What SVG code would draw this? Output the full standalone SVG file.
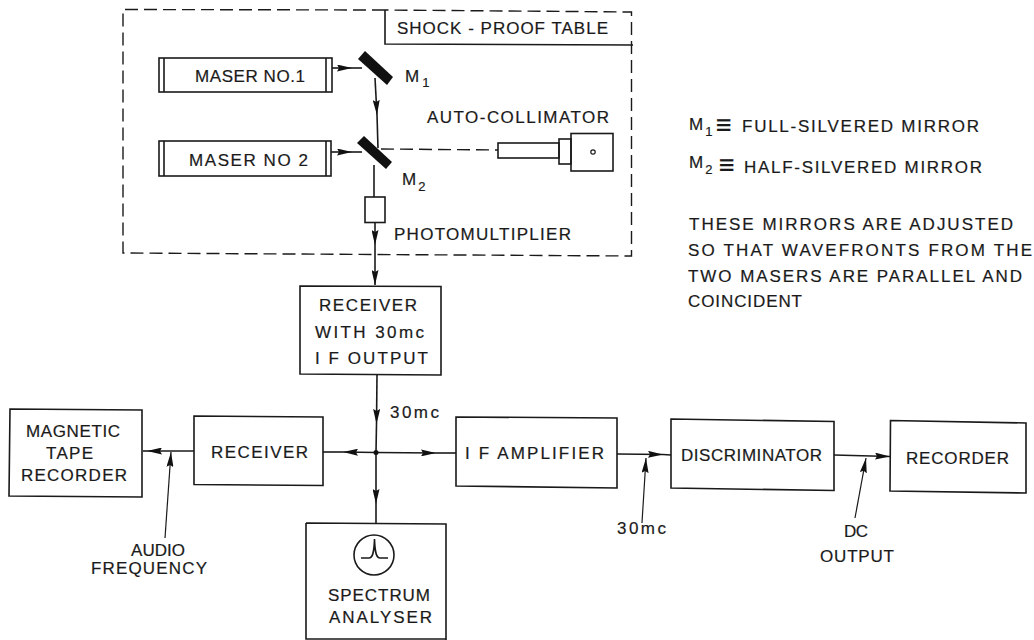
<svg xmlns="http://www.w3.org/2000/svg" width="1034" height="640" viewBox="0 0 1034 640">
<style>
.b{fill:none;stroke:#1a1a1a;stroke-width:1.6}
.c{fill:none;stroke:#1a1a1a;stroke-width:1.6}
.d{fill:none;stroke:#1a1a1a;stroke-width:1.4;stroke-dasharray:13 6}
.l{fill:none;stroke:#1a1a1a;stroke-width:1.2}
.m{fill:#111;stroke:none}
text{font-family:"Liberation Sans",Arial,sans-serif;font-size:17px;fill:#1a1a1a;stroke:#1a1a1a;stroke-width:.2}
.s{font-size:13px}
.e{font-size:27px}
</style>
<defs>
<marker id="a" markerUnits="userSpaceOnUse" viewBox="0 0 15 7" refX="15" refY="3.500" markerWidth="15" markerHeight="7" orient="auto"><path d="M0 0L15 3.500L0 7L2 3.500Z" fill="#111"/></marker>
</defs>
<rect width="1034" height="640" fill="#fff"/>
<g id="connectors">
<path class="c" d="M332 68H352" marker-end="url(#a)"/><path class="c" d="M352 68H362"/>
<path class="c" d="M375 78L377 115" marker-end="url(#a)"/><path class="c" d="M377 115L378 148"/>
<path class="c" d="M331 152H352" marker-end="url(#a)"/><path class="c" d="M352 152H362"/>
<path class="c" d="M374 165V197"/>
<path class="d" d="M381 149L498 150"/>
<path class="c" d="M375 222V245" marker-end="url(#a)"/><path class="c" d="M375 245V253"/><path class="c" d="M375 253V285" marker-end="url(#a)"/>
<path class="c" d="M377 375L376.500 424" marker-end="url(#a)"/><path class="c" d="M376.500 424L376 452"/>
<path class="c" d="M376 452V504" marker-end="url(#a)"/><path class="c" d="M376 504V523"/>
<path class="c" d="M376 452.500L343 452" marker-end="url(#a)"/><path class="c" d="M343 452H323"/>
<path class="c" d="M376 452.500L436 453" marker-end="url(#a)"/><path class="c" d="M436 453H456"/>
<path class="c" d="M194 451L147 451" marker-end="url(#a)"/><path class="c" d="M147 451H143"/>
<path class="l" d="M165 538L171 452" marker-end="url(#a)"/>
<path class="c" d="M617 454L663 454.500" marker-end="url(#a)"/><path class="c" d="M663 454.500L671 455"/>
<path class="l" d="M642 523L646 458" marker-end="url(#a)"/>
<path class="c" d="M834 455L890 456.500" marker-end="url(#a)"/>
<path class="l" d="M855 518L866 458" marker-end="url(#a)"/>
<circle class="m" cx="376" cy="452.500" r="2.500"/>
</g>
<g id="table">
<path class="d" d="M385 10L123 9.500V253L631.500 256V12L385 10"/>
<path class="b" d="M385 10V44L633 45"/>
<text x="397" y="34" textLength="211">SHOCK - PROOF TABLE</text>
</g>
<g id="maser1">
<rect class="b" x="159" y="58" width="173" height="34"/>
<path class="b" d="M164 58V92M326 58V92"/>
<text x="195" y="82" textLength="110">MASER NO.1</text>
</g>
<g id="maser2">
<rect class="b" x="159" y="141" width="172" height="35"/>
<path class="b" d="M164 141V176M326 141V176"/>
<text x="189" y="166" textLength="119">MASER NO 2</text>
</g>
<g id="m1">
<polygon class="m" points="365,51 393,77 387,85 358,59"/>
<text x="405" y="82">M<tspan class="s" dx="3" dy="5">1</tspan></text>
</g>
<g id="m2">
<polygon class="m" points="364,136 392,162 386,169 357,143"/>
<text x="402" y="185">M<tspan class="s" dx="2" dy="6">2</tspan></text>
</g>
<g id="autocollimator">
<rect class="b" x="498" y="143" width="61" height="15"/>
<rect class="b" x="559" y="139" width="12" height="25"/>
<rect class="b" x="571" y="133.500" width="42" height="37.500"/>
<circle class="l" cx="593" cy="152" r="2.200"/>
<text x="427" y="123" textLength="182">AUTO-COLLIMATOR</text>
</g>
<g id="photomultiplier">
<rect class="b" x="365" y="197" width="20" height="25.500"/>
<text x="394" y="240" textLength="177">PHOTOMULTIPLIER</text>
</g>
<g id="receiver-if">
<path class="b" d="M300 286L441 286.500V375L300 374Z"/>
<text x="319" y="311" textLength="98">RECEIVER</text>
<text x="315" y="338" textLength="109">WITH 30mc</text>
<text x="315" y="364" textLength="113">I F OUTPUT</text>
</g>
<g id="label-30mc-a"><text x="390" y="418" textLength="49">30mc</text></g>
<g id="magnetic">
<path class="b" d="M10 409L142 410V497L9 496Z"/>
<text x="26" y="437" textLength="94">MAGNETIC</text>
<text x="46" y="459" textLength="47">TAPE</text>
<text x="21" y="481" textLength="106">RECORDER</text>
</g>
<g id="receiver">
<path class="b" d="M194 416L323 417V485.500L194 484.500Z"/>
<text x="211" y="458" textLength="97">RECEIVER</text>
</g>
<g id="if-amp">
<path class="b" d="M456 417L617 418V488L456 486Z"/>
<text x="465" y="459" textLength="139">I F AMPLIFIER</text>
</g>
<g id="discriminator">
<path class="b" d="M671 419L834 421.500V490.500L671 488Z"/>
<text x="681" y="461" textLength="141">DISCRIMINATOR</text>
</g>
<g id="recorder">
<path class="b" d="M890.500 420.500L1026 423V493L890 491Z"/>
<text x="906" y="464" textLength="103">RECORDER</text>
</g>
<g id="spectrum">
<path class="b" d="M306 523L446 524V640M306 523V639H446"/>
<circle class="b" cx="374" cy="555" r="20"/>
<path class="c" d="M361 558H369C372 558 374 555 374.500 539C375 555 377 558 380 558H388"/>
<text x="328" y="601" textLength="102">SPECTRUM</text>
<text x="329" y="623" textLength="103">ANALYSER</text>
</g>
<g id="notes">
<text x="131" y="556" textLength="54">AUDIO</text>
<text x="91" y="574" textLength="116">FREQUENCY</text>
<text x="617" y="534" textLength="49">30mc</text>
<text x="844" y="537" textLength="24">DC</text>
<text x="820" y="562" textLength="74">OUTPUT</text>
<text x="689" y="130">M<tspan class="s" dx="2" dy="6">1</tspan></text>
<text class="e" x="716" y="134">≡</text>
<text x="742" y="132" textLength="237">FULL-SILVERED MIRROR</text>
<text x="689" y="168">M<tspan class="s" dx="2" dy="6">2</tspan></text>
<text class="e" x="719" y="174">≡</text>
<text x="744" y="173" textLength="238">HALF-SILVERED MIRROR</text>
<text x="689" y="230" textLength="324">THESE MIRRORS ARE ADJUSTED</text>
<text x="688" y="256" textLength="344">SO THAT WAVEFRONTS FROM THE</text>
<text x="688" y="282" textLength="334">TWO MASERS ARE PARALLEL AND</text>
<text x="688" y="307" textLength="114">COINCIDENT</text>
</g>
</svg>
